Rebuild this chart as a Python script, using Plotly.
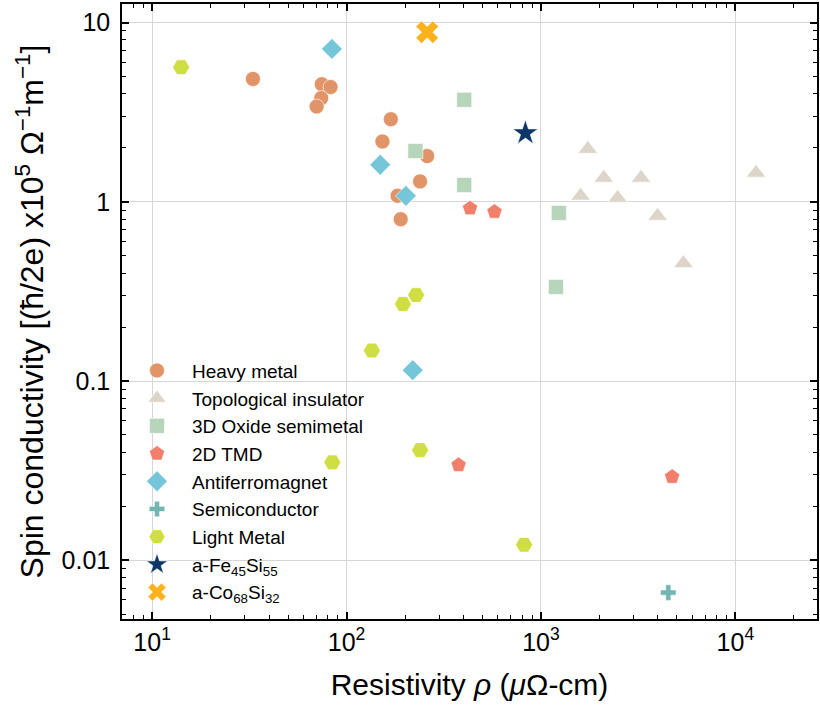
import plotly.graph_objects as go
import numpy as np

# ---- data ----
heavy_x = [33.0, 74.6, 82.8, 74.1, 70.2, 169, 153, 260, 239, 183, 190]
heavy_y = [4.85, 4.53, 4.37, 3.79, 3.40, 2.89, 2.17, 1.80, 1.30, 1.08, 0.80]

ti_x = [1742, 2105, 3270, 1600, 2480, 3980, 5410, 12770]
ti_y = [1.97, 1.36, 1.36, 1.08, 1.05, 0.834, 0.454, 1.45]

oxide_x = [403, 226, 403, 1236, 1194]
oxide_y = [3.71, 1.92, 1.24, 0.867, 0.335]

tmd_x = [432, 577, 377, 4730]
tmd_y = [0.92, 0.88, 0.034, 0.0292]

afm_x = [84.1, 149, 202, 219]
afm_y = [7.13, 1.61, 1.08, 0.115]

semi_x = [4520]
semi_y = [0.0066]

light_x = [14.1, 228, 195, 135, 84.5, 239, 819]
light_y = [5.64, 0.302, 0.269, 0.148, 0.0352, 0.0412, 0.0122]

fesi_x = [832]
fesi_y = [2.42]

cosi_x = [260]
cosi_y = [8.84]

series = [
    ("Heavy metal", heavy_x, heavy_y, "circle", "#E09467", 15),
    ("Topological insulator", ti_x, ti_y, "triangle-up", "#DDD5C9", 17),
    ("3D Oxide semimetal", oxide_x, oxide_y, "square", "#B7D5BA", 15),
    ("2D TMD", tmd_x, tmd_y, "pentagon", "#F07F6B", 16),
    ("Antiferromagnet", afm_x, afm_y, "diamond", "#74C6D8", 16),
    ("Semiconductor", semi_x, semi_y, "cross", "#72B5B1", 13),
    ("Light Metal", light_x, light_y, "hexagon2", "#CFDF41", 17),
    ("a-Fe<sub>45</sub>Si<sub>55</sub>", fesi_x, fesi_y, "star", "#0C3667", 19),
    ("a-Co<sub>68</sub>Si<sub>32</sub>", cosi_x, cosi_y, "x", "#FDB11A", 20),
]

x_tickvals = [10, 100, 1000, 10000]
x_ticktext = ["10<sup>1</sup>", "10<sup>2</sup>", "10<sup>3</sup>", "10<sup>4</sup>"]
y_tickvals = [0.01, 0.1, 1, 10]
y_ticktext = ["0.01", "0.1", "1", "10"]

fig = go.Figure()
for i, (name, xs, ys, sym, col, sz) in enumerate(series):
    fig.add_trace(go.Scatter(
        x=xs, y=ys, mode="markers", name=name,
        legendgroup=f"g{i}",
        marker=dict(symbol=sym, color=col, size=sz,
                    line=dict(color="white", width=0.6)),
    ))

def minors(lo, hi):
    out = []
    for k in range(lo, hi):
        for m in range(2, 10):
            out.append(m * 10 ** k)
    return out

FONT = "Arial, Liberation Sans, sans-serif"

fig.update_layout(
    width=820, height=710,
    margin=dict(l=122, r=1, t=4, b=91),
    paper_bgcolor="white", plot_bgcolor="white",
    font=dict(family=FONT, color="black", size=20),
    showlegend=True,
    legend=dict(
        x=0.0, y=0.012, xanchor="left", yanchor="bottom",
        bgcolor="rgba(255,255,255,0)",
        font=dict(size=19, family=FONT),
        traceorder="grouped", tracegroupgap=0,
        itemsizing="trace", itemwidth=60,
    ),
)

fig.update_xaxes(
    type="log", range=[np.log10(7.0), np.log10(26300)],
    tickvals=x_tickvals, ticktext=x_ticktext,
    ticks="inside", ticklen=7, tickwidth=1.5, tickcolor="black",
    showline=True, linecolor="black", linewidth=1.5, mirror="allticks",
    showgrid=True, gridcolor="#d6d6d6", gridwidth=1,
    zeroline=False,
    tickfont=dict(size=25, family=FONT),
    minor=dict(tickvals=minors(0, 5), ticks="inside", ticklen=4,
               tickwidth=1, tickcolor="black", showgrid=False),
    title=dict(text="Resistivity <i>ρ</i> (<i>μ</i>Ω-cm)", font=dict(size=30, family=FONT), standoff=19),
)
fig.update_yaxes(
    type="log", range=[np.log10(0.0047), np.log10(12.7)],
    tickvals=y_tickvals, ticktext=y_ticktext,
    ticks="inside", ticklen=7, tickwidth=1.5, tickcolor="black",
    showline=True, linecolor="black", linewidth=1.5, mirror="allticks",
    showgrid=True, gridcolor="#d6d6d6", gridwidth=1,
    zeroline=False, ticklabelstandoff=5,
    tickfont=dict(size=25, family=FONT),
    minor=dict(tickvals=minors(-3, 2), ticks="inside", ticklen=4,
               tickwidth=1, tickcolor="black", showgrid=False),
    title=dict(text="Spin conductivity [(ħ/2e) x10<sup>5</sup> Ω<sup>−1</sup>m<sup>−1</sup>]",
               font=dict(size=32, family=FONT), standoff=8),
)

fig.write_html("out.html")
